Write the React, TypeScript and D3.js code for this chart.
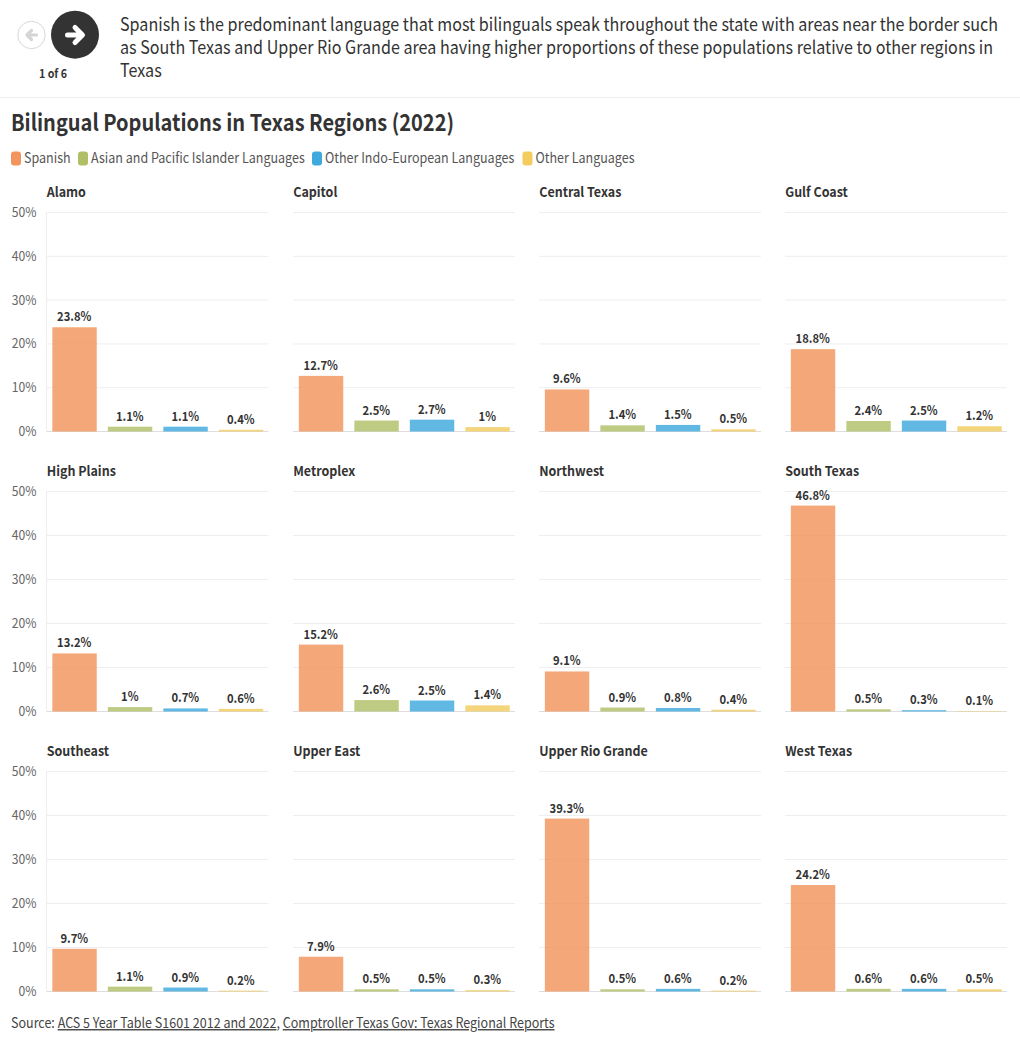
import React from "react";
import * as d3 from "d3";

const regions = ["Alamo","Capitol","Central Texas","Gulf Coast","High Plains","Metroplex","Northwest","South Texas","Southeast","Upper East","Upper Rio Grande","West Texas"];
const languages = ["Spanish","Asian and Pacific Islander Languages","Other Indo-European Languages","Other Languages"];
const colors = ["#f2955c","#b0bf66","#3ea9dd","#f2cc5f"];
const spanish = [23.8,12.7,9.6,18.8,13.2,15.2,9.1,46.8,9.7,7.9,39.3,24.2];
const asian = [1.1,2.5,1.4,2.4,1,2.6,0.9,0.5,1.1,0.5,0.5,0.6];
const indoEuropean = [1.1,2.7,1.5,2.5,0.7,2.5,0.8,0.3,0.9,0.5,0.6,0.6];
const otherLanguages = [0.4,1,0.5,1.2,0.6,1.4,0.4,0.1,0.2,0.3,0.2,0.5];
const seriesValues = [spanish,asian,indoEuropean,otherLanguages];
const yTicks = [0,10,20,30,40,50];
const headline = [
  "Spanish is the predominant language that most bilinguals speak throughout the state with areas near the border such",
  "as South Texas and Upper Rio Grande area having higher proportions of these populations relative to other regions in",
  "Texas",
];

const FONT = '"Noto Sans CJK SC","Noto Sans",sans-serif';
const panelLefts = [46.5,293,539,785];
const panelWidth = 222;
const rowTops = [212.5,491.5,771.5];
const rowBottoms = [431.5,711.5,991.5];
const legendX = [11,78,312,522.5];

function T({ x, y, sx, children, ...rest }: any) {
  return <text transform={`translate(${x},${y}) scale(${sx},1)`} {...rest}>{children}</text>;
}

function Panel({ index }: { index: number }) {
  const col = index % 4;
  const row = Math.floor(index / 4);
  const x0 = panelLefts[col];
  const top = rowTops[row];
  const bottom = rowBottoms[row];
  const y = d3.scaleLinear().domain([0, 50]).range([bottom, top]);
  const x = d3.scaleBand<number>().domain([0,1,2,3]).range([x0, x0 + panelWidth]).paddingInner(0.2).paddingOuter(0.1);
  return (
    <g>
      <T x={x0 + 0.2} y={top - 16} sx={0.925} fontSize={13.5} fontWeight={700} fill="#333">{regions[index]}</T>
      {yTicks.map((t) => (
        <g key={t}>
          <line x1={x0} x2={x0 + panelWidth} y1={y(t)} y2={y(t)} stroke={t === 0 ? "#dedede" : "#eeeeee"} strokeWidth={1} />
          {col === 0 && (
            <T x={36.5} y={y(t) + 4.5} sx={0.9} textAnchor="end" fontSize={13.5} fill="#666">{t}%</T>
          )}
        </g>
      ))}
      {col === 0 && <line x1={x0} x2={x0} y1={top} y2={bottom} stroke="#eeeeee" />}
      {seriesValues.map((s, i) => {
        const v = s[index];
        return (
          <g key={i}>
            <rect x={x(i)! + 0.3} y={y(v)} width={x.bandwidth()} height={y(0) - y(v)} fill={colors[i]} fillOpacity={0.82} />
            <T x={x(i)! + x.bandwidth() / 2} y={y(v) - 6} sx={0.9} textAnchor="middle" fontSize={12.5} fontWeight={700} fill="#333">{v}%</T>
          </g>
        );
      })}
    </g>
  );
}

export default function App() {
  return (
    <svg width={1020} height={1042} style={{ position: "absolute", left: 0, top: 0, background: "#fff" }} fontFamily={FONT}>
      <circle cx={31.5} cy={35} r={13.7} fill="#fff" stroke="#d8d8d8" strokeWidth={1} />
      <path d="M36.5 35H28M31.5 30.5L27 35L31.5 39.5" fill="none" stroke="#d5d5d5" strokeWidth={3.2} strokeLinecap="round" strokeLinejoin="round" />
      <circle cx={75} cy={34.7} r={24} fill="#333" />
      <path d="M67.5 35H81M75 27.5L82.5 35L75 42.5" fill="none" stroke="#fff" strokeWidth={5} strokeLinecap="round" strokeLinejoin="round" />
      <T x={53} y={78} sx={0.93} textAnchor="middle" fontSize={11.5} fontWeight={700} fill="#333">1 of 6</T>
      {headline.map((l, i) => (
        <T key={i} x={120} y={31 + i * 23} sx={0.8955} fontSize={18} fill="#333">{l}</T>
      ))}
      <line x1={0} x2={1020} y1={97.5} y2={97.5} stroke="#eeeeee" />
      <T x={11} y={130.5} sx={0.87} fontSize={23} fontWeight={700} fill="#333">Bilingual Populations in Texas Regions (2022)</T>
      {languages.map((l, i) => (
        <g key={l}>
          <rect x={legendX[i]} y={151.5} width={10} height={14} rx={3} fill={colors[i]} />
          <T x={legendX[i] + 13} y={163} sx={0.895} fontSize={14} fill="#555">{l}</T>
        </g>
      ))}
      {regions.map((_, i) => <Panel key={i} index={i} />)}
      <T x={11} y={1028} sx={0.895} fontSize={14} fill="#444">
        Source: <tspan textDecoration="underline">ACS 5 Year Table S1601 2012 and 2022</tspan>, <tspan textDecoration="underline">Comptroller Texas Gov: Texas Regional Reports</tspan>
      </T>
    </svg>
  );
}
